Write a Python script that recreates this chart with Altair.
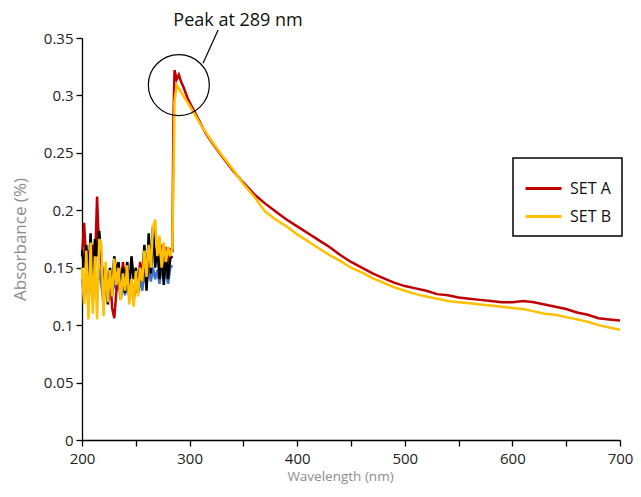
import altair as alt
import pandas as pd

# ---------------- data ----------------
noise_wl = [200, 202, 204, 206, 208, 210, 212, 214, 216, 218, 220, 222, 224, 226, 228,
            230, 232, 234, 236, 238, 240, 242, 244, 246, 248, 250, 252, 254, 256, 258,
            260, 262, 264, 266, 268, 270, 272, 274, 276, 278, 280, 282, 284]

noise_a = [0.160, 0.189, 0.150, 0.165, 0.135, 0.170, 0.150, 0.212, 0.160, 0.155, 0.135,
           0.150, 0.128, 0.145, 0.115, 0.106, 0.130, 0.148, 0.130, 0.155, 0.140, 0.150,
           0.125, 0.138, 0.120, 0.145, 0.135, 0.155, 0.145, 0.160, 0.135, 0.168, 0.155,
           0.175, 0.160, 0.165, 0.150, 0.170, 0.158, 0.168, 0.150, 0.166, 0.165]

noise_b = [0.150, 0.118, 0.165, 0.105, 0.172, 0.110, 0.160, 0.105, 0.175, 0.170, 0.108,
           0.155, 0.120, 0.148, 0.125, 0.158, 0.135, 0.150, 0.122, 0.145, 0.130, 0.152,
           0.118, 0.140, 0.116, 0.147, 0.125, 0.150, 0.138, 0.165, 0.142, 0.170, 0.150,
           0.185, 0.192, 0.160, 0.178, 0.150, 0.172, 0.155, 0.168, 0.160, 0.168]

noise_black = [0.165, 0.150, 0.170, 0.140, 0.180, 0.125, 0.175, 0.160, 0.182, 0.158, 0.135,
               0.148, 0.118, 0.150, 0.132, 0.160, 0.145, 0.155, 0.130, 0.150, 0.128, 0.155,
               0.132, 0.160, 0.140, 0.150, 0.128, 0.145, 0.138, 0.170, 0.130, 0.180, 0.145,
               0.186, 0.150, 0.170, 0.140, 0.165, 0.135, 0.162, 0.140, 0.158, 0.160]

noise_blue = [0.140, 0.125, 0.145, 0.118, 0.150, 0.120, 0.142, 0.128, 0.150, 0.135, 0.118,
              0.140, 0.120, 0.135, 0.125, 0.140, 0.130, 0.138, 0.122, 0.135, 0.126, 0.140,
              0.124, 0.132, 0.125, 0.135, 0.128, 0.140, 0.130, 0.145, 0.135, 0.150, 0.138,
              0.150, 0.140, 0.148, 0.136, 0.150, 0.140, 0.148, 0.136, 0.150, 0.152]

decay_wl_a = [285, 286, 288, 290, 292, 294, 296, 298, 300, 305, 310, 315, 320, 330, 340,
              350, 360, 370, 380, 390, 400, 410, 420, 430, 440, 450, 460, 470, 480, 490,
              500, 510, 520, 530, 540, 550, 560, 570, 580, 590, 600, 610, 620, 630, 640,
              650, 660, 670, 680, 690, 700]
decay_a = [0.280, 0.322, 0.314, 0.318, 0.312, 0.308, 0.303, 0.298, 0.294, 0.285, 0.276,
           0.267, 0.260, 0.247, 0.235, 0.224, 0.214, 0.206, 0.199, 0.192, 0.186, 0.180,
           0.174, 0.168, 0.161, 0.155, 0.150, 0.145, 0.141, 0.137, 0.134, 0.132, 0.130,
           0.127, 0.126, 0.124, 0.123, 0.122, 0.121, 0.120, 0.120, 0.121, 0.120, 0.118,
           0.116, 0.114, 0.111, 0.109, 0.106, 0.105, 0.104]

decay_wl_b = [286, 288, 290, 292, 294, 296, 298, 300, 305, 310, 315, 320, 330, 340,
              350, 360, 370, 380, 390, 400, 410, 420, 430, 440, 450, 460, 470, 480, 490,
              500, 510, 520, 530, 540, 550, 560, 570, 580, 590, 600, 610, 620, 630, 640,
              650, 660, 670, 680, 690, 700]
decay_b = [0.295, 0.309, 0.306, 0.303, 0.300, 0.297, 0.294, 0.291, 0.283, 0.275, 0.268,
           0.261, 0.248, 0.236, 0.223, 0.212, 0.199, 0.192, 0.186, 0.179, 0.173, 0.167,
           0.161, 0.156, 0.150, 0.146, 0.141, 0.137, 0.133, 0.130, 0.127, 0.125, 0.123,
           0.121, 0.120, 0.119, 0.118, 0.117, 0.116, 0.115, 0.114, 0.112, 0.110, 0.109,
           0.107, 0.105, 0.103, 0.100, 0.098, 0.096]

series_names = ["SET A", "SET B"]
series_colors = ["#C00000", "#FFC000"]

y_ticks = [0, 0.05, 0.1, 0.15, 0.2, 0.25, 0.3, 0.35]
x_ticks = [200, 250, 300, 350, 400, 450, 500, 550, 600, 650, 700]

peak_circle = {"wl": [290], "val": [0.309]}
leader = {"wl": [312.5], "val": [0.328], "wl2": [326.5], "val2": [0.357]}
peak_label = {"wl": [345], "val": [0.3602], "text": ["Peak at 289 nm"]}

# ---------------- frames ----------------
df_a = pd.DataFrame({"wl": noise_wl + decay_wl_a, "val": noise_a + decay_a, "series": "SET A"})
df_b = pd.DataFrame({"wl": noise_wl + decay_wl_b, "val": noise_b + decay_b, "series": "SET B"})
df_black = pd.DataFrame({"wl": noise_wl, "val": noise_black})
df_blue = pd.DataFrame({"wl": noise_wl, "val": noise_blue})

FONT = "Open Sans"

x_enc = alt.X("wl:Q", scale=alt.Scale(domain=[200, 700], nice=False),
              axis=alt.Axis(title="Wavelength (nm)", values=x_ticks,
                            labelExpr="datum.value % 100 == 0 ? datum.label : ''",
                            format="d", titleFontSize=13.5, labelPadding=5,
                            titlePadding=3, titleX=258))
y_enc = alt.Y("val:Q", scale=alt.Scale(domain=[0, 0.35], nice=False),
              axis=alt.Axis(title="Absorbance (%)", values=y_ticks,
                            labelExpr="datum.value == 0 ? '0' : format(datum.value, '.2~f')",
                            titleFontSize=17, labelPadding=3, titlePadding=14))

color_scale = alt.Scale(domain=series_names, range=series_colors)
legend = alt.Legend(title=None, orient="none", legendX=431, legendY=120,
                    strokeColor="black", fillColor="white", padding=11,
                    symbolType="stroke", symbolSize=1296, symbolStrokeWidth=3,
                    labelFont=FONT, labelFontSize=16, labelColor="#111111",
                    labelOffset=7, rowPadding=0)

blue = alt.Chart(df_blue).mark_line(strokeWidth=2.5, color="#4472C4").encode(x=x_enc, y=y_enc)
red = alt.Chart(df_a).mark_line(strokeWidth=2.5).encode(
    x=x_enc, y=y_enc, color=alt.Color("series:N", scale=color_scale, legend=legend))
black = alt.Chart(df_black).mark_line(strokeWidth=2.5, color="#000000").encode(x=x_enc, y=y_enc)
yellow = alt.Chart(df_b).mark_line(strokeWidth=2.5).encode(
    x=x_enc, y=y_enc, color=alt.Color("series:N", scale=color_scale, legend=legend))

circle = alt.Chart(pd.DataFrame(peak_circle)).mark_point(
    shape="circle", size=3720, filled=False, stroke="black", strokeWidth=1.2, opacity=1
).encode(x="wl:Q", y="val:Q")

line = alt.Chart(pd.DataFrame(leader)).mark_rule(stroke="black", strokeWidth=1.2).encode(
    x="wl:Q", y="val:Q", x2="wl2:Q", y2="val2:Q")

label = alt.Chart(pd.DataFrame(peak_label)).mark_text(
    font=FONT, fontSize=18, color="#111111", align="center", baseline="alphabetic"
).encode(x="wl:Q", y="val:Q", text="text:N")

chart = alt.layer(blue, red, black, yellow, circle, line, label).properties(
    width=538, height=402,
    autosize=alt.AutoSizeParams(type="none"),
    padding={"left": 74, "top": 30, "right": 13, "bottom": 49},
).configure_view(stroke=None).configure_axis(
    grid=False, domainColor="black", domainWidth=1.3, tickColor="black", tickWidth=1.3,
    tickSize=6, labelFont=FONT, labelFontSize=15, labelColor="#222222", labelFlush=False,
    titleFont=FONT, titleColor="#8c8c8c", titleFontWeight="normal"
).configure_legend(strokeWidth=1.5)

chart.save("out.html", embed_options={"renderer": "svg", "actions": False})
